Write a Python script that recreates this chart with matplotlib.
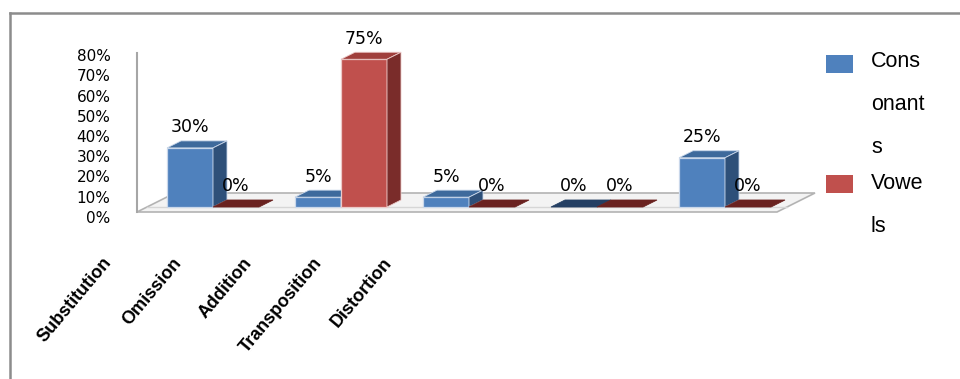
import matplotlib
matplotlib.use("Agg")
import matplotlib.pyplot as plt
import numpy as np
from matplotlib.lines import Line2D
from matplotlib.patches import Polygon, Rectangle
from matplotlib.ticker import PercentFormatter

# data
categories = ["Substitution", "Omission", "Addition", "Transposition", "Distortion"]
consonants = [30, 5, 5, 0, 25]
vowels = [0, 75, 0, 0, 0]
series_names = ["Consonants", "Vowels"]
legend_wrap = [["Cons", "onant", "s"], ["Vowe", "ls"]]  # wrapped as in the original legend
y_ticks = [0, 10, 20, 30, 40, 50, 60, 70, 80]

W, H = 960, 379
fig = plt.figure(figsize=(W / 100, H / 100), dpi=100)

# main axes covers the whole figure, 3D look is imitated by hand
ax = fig.add_axes([0, 0, 1, 1])
X0, XSTEP = 213, 128      # pixel of first category centre, pixels per category
Y0, YSCALE = 207, 1.97    # pixel of the bar baseline, pixels per percent
ax.set_xlim(-X0 / XSTEP, (W - X0) / XSTEP)
ax.set_ylim((Y0 - H) / YSCALE, Y0 / YSCALE)
ax.axis("off")


def px(x, y):
    """pixel position -> data coords of the main axes"""
    return ((x - X0) / XSTEP, (Y0 - y) / YSCALE)


# floor and wall
floor = [px(137, 212), px(175, 193), px(815, 193), px(777, 212)]
ax.add_patch(Polygon(floor, closed=True, fc="#f3f3f3", ec="#b3b3b3", lw=1.2, zorder=1))
ax.plot(*zip(px(147, 207), px(787, 207)), color="#d6d6d6", lw=1, zorder=1.5)
ax.plot(*zip(px(137, 53), px(137, 212)), color="#a6a6a6", lw=1.5, zorder=1)

# bars
width = 46 / XSTEP
dx, dy = 14 / XSTEP, 7 / YSCALE
x = np.arange(len(categories))
# front, top, side, flat (zero value), edge
palette = [("#4f81bd", "#3e6a9c", "#2e5079", "#243f63", "#c9d7ea"),
           ("#c0504d", "#a03f3c", "#7a2c2a", "#6a2220", "#ecc9c8")]

for s, vals in enumerate([consonants, vowels]):
    front, top, side, flat, edge = palette[s]
    bars = ax.bar(x - width + s * width, vals, width, align="edge",
                  color=front, edgecolor=edge,
                  linewidth=[0.9 if v > 0 else 0 for v in vals])
    for i, b in enumerate(bars):
        z = 3 + 2 * i + s
        b.set_zorder(z)
        xl, xr, v = b.get_x(), b.get_x() + b.get_width(), b.get_height()
        top_face = [(xl, v), (xr, v), (xr + dx, v + dy), (xl + dx, v + dy)]
        ax.add_patch(Polygon(top_face, closed=True, fc=top if v > 0 else flat,
                             ec=edge if v > 0 else flat, lw=0.6, zorder=z))
        if v > 0:
            side_face = [(xr, 0), (xr + dx, dy), (xr + dx, v + dy), (xr, v)]
            ax.add_patch(Polygon(side_face, closed=True, fc=side, ec=edge,
                                 lw=0.6, zorder=z))
        ax.text(xl + width / 2, v + dy + 2.3, f"{v}%", ha="center", va="bottom",
                fontsize=12.5, family="DejaVu Sans", zorder=20)

# value axis (front edge of the 3D box, own scale)
tax = fig.add_axes([116 / W, (H - 217) / H, 0.001, (217 - 55) / H])
tax.set_ylim(0, 80)
tax.set_yticks(y_ticks)
tax.yaxis.set_major_formatter(PercentFormatter(decimals=0))
tax.tick_params(axis="y", length=0, pad=4, labelsize=11)
tax.set_xticks([])
for sp in tax.spines.values():
    sp.set_visible(False)
tax.patch.set_alpha(0)

# category labels
for i, name in enumerate(categories):
    xe = 109 + 70 * i
    fig.text(xe / W, 1 - 260 / H, name, rotation=50, rotation_mode="anchor",
             ha="right", va="center", fontsize=13, fontweight="bold",
             family="Liberation Sans")

# legend
leg_colors = [palette[0][0], palette[1][0]]
leg_top = [55, 175]
leg_base = [67, 189]
for s in range(len(series_names)):
    fig.patches.append(Rectangle((826 / W, 1 - (leg_top[s] + 18) / H), 27 / W, 18 / H,
                                 transform=fig.transFigure, fc=leg_colors[s], ec="none"))
    for j, piece in enumerate(legend_wrap[s]):
        fig.text(871 / W, 1 - (leg_base[s] + 43 * j) / H, piece, va="baseline",
                 fontsize=15.5, family="Liberation Sans")

# chart border (cut off on the right and at the bottom)
fig.add_artist(Line2D([10 / W, 10 / W], [0, 1 - 13 / H], color="#8c8c8c", lw=1.8))
fig.add_artist(Line2D([10 / W, 1], [1 - 13 / H, 1 - 13 / H], color="#8c8c8c", lw=1.8))

fig.savefig("out.png", dpi=100, facecolor="white")
plt.close(fig)
